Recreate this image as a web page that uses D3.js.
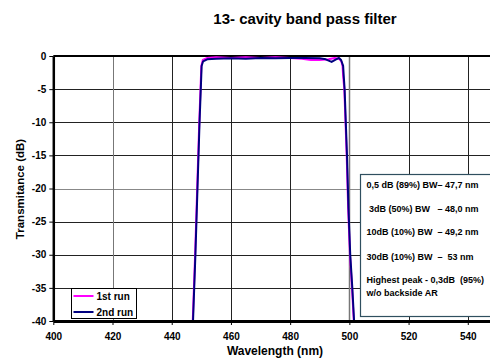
<!DOCTYPE html>
<html lang="en">
<head>
<meta charset="utf-8">
<title>13- cavity band pass filter</title>
<style>
  body { margin: 0; background: #fff; }
  svg text { font-family: Arial, "Liberation Sans", sans-serif; font-weight: bold; }
</style>
</head>
<body>
<svg id="chart" width="490" height="363"></svg>
<script src="https://cdn.jsdelivr.net/npm/d3@7/dist/d3.min.js"></script>
<script>
var xTicks = [400, 420, 440, 460, 480, 500, 520, 540];
var yTicks = [0, -5, -10, -15, -20, -25, -30, -35, -40];

// 1st run (magenta)
var run1Wl = [447.1, 447.9, 448.6, 449.3, 449.8, 450.0, 450.5, 452, 455, 460, 465, 470, 475, 480, 484, 487, 490, 493, 495, 496.5, 497.3, 497.7, 497.9, 498.3, 498.7, 499.1, 499.6, 500.2, 500.9, 501.5];
var run1Db = [-40, -30, -20, -10, -4, -1.5, -0.6, -0.3, -0.2, -0.3, -0.2, -0.3, -0.2, -0.3, -0.4, -0.6, -0.6, -0.5, -0.3, -0.4, -0.8, -1.5, -3, -5, -10, -15, -23, -30, -35, -40];

// 2nd run (navy)
var run2Wl = [447.2, 448.0, 448.7, 449.4, 449.9, 450.1, 450.6, 452, 455, 460, 465, 470, 475, 480, 485, 490, 492, 494, 495.5, 496.5, 497.2, 497.9, 498.1, 498.4, 498.8, 499.2, 499.7, 500.3, 501.0, 501.6];
var run2Db = [-40, -30, -20, -10, -4, -1.5, -0.8, -0.5, -0.4, -0.35, -0.4, -0.3, -0.35, -0.3, -0.3, -0.35, -0.5, -0.9, -0.5, -0.3, -0.6, -1.5, -3, -5, -10, -15, -23, -30, -35, -40];

var seriesNames = ["1st run", "2nd run"];
var seriesColors = ["#ff00ff", "#000080"];

var notes = ["0,5 dB (89%) BW\u2013 47,7 nm", " 3dB (50%) BW   \u2013 48,0 nm", "10dB (10%) BW  \u2013 49,2 nm", "30dB (10%) BW  \u2013  53 nm", "Highest peak - 0,3dB  (95%)", "w/o backside AR"];

var svg = d3.select("#chart");
var pLeft = 53.3, pRight = 527, pTop = 56, pBottom = 321;

var x = d3.scaleLinear().domain([400, 560]).range([pLeft, pRight]);
var y = d3.scaleLinear().domain([-40, 0]).range([pBottom, pTop]);

// title
svg.append("text")
    .attr("x", 305).attr("y", 24)
    .attr("text-anchor", "middle")
    .attr("font-size", "15px")
    .text("13- cavity band pass filter");

// gridlines
svg.append("g").selectAll("line")
    .data(yTicks.slice(1, -1))
    .enter().append("line")
    .attr("x1", pLeft).attr("x2", pRight)
    .attr("y1", function(d) { return Math.round(y(d)) + 0.5; })
    .attr("y2", function(d) { return Math.round(y(d)) + 0.5; })
    .attr("stroke", function(d) { return d == -20 ? "#888" : "#222"; })
    .attr("stroke-width", 1);

svg.append("g").selectAll("line")
    .data(xTicks.slice(1))
    .enter().append("line")
    .attr("y1", pTop).attr("y2", pBottom)
    .attr("x1", function(d) { return Math.round(x(d)) + 0.5; })
    .attr("x2", function(d) { return Math.round(x(d)) + 0.5; })
    .attr("stroke", function(d) { return (d == 420 || d == 500) ? "#777" : "#222"; })
    .attr("stroke-width", function(d) { return d == 500 ? 1.5 : 1; });

// top border
svg.append("line")
    .attr("x1", pLeft).attr("x2", pRight)
    .attr("y1", pTop).attr("y2", pTop)
    .attr("stroke", "#000").attr("stroke-width", 2);

// curves
svg.append("clipPath").attr("id", "clip")
    .append("rect")
    .attr("x", pLeft).attr("y", pTop - 2)
    .attr("width", pRight - pLeft).attr("height", pBottom - pTop + 2);

var line = d3.line()
    .x(function(d) { return x(d[0]); })
    .y(function(d) { return y(d[1]); });

var runs = [d3.zip(run1Wl, run1Db), d3.zip(run2Wl, run2Db)];

svg.append("g").attr("clip-path", "url(#clip)")
    .selectAll("path")
    .data(runs)
    .enter().append("path")
    .attr("d", line)
    .attr("fill", "none")
    .attr("stroke", function(d, i) { return seriesColors[i]; })
    .attr("stroke-width", 2)
    .attr("stroke-linejoin", "round");

// axes
var xAxis = svg.append("g")
    .attr("transform", "translate(0," + pBottom + ")")
    .call(d3.axisBottom(x).tickValues(xTicks).tickSize(4).tickSizeOuter(0).tickFormat(d3.format("d")));
xAxis.select(".domain").attr("stroke", "#000").attr("stroke-width", 3);
xAxis.selectAll("text").attr("font-size", "10px").attr("font-family", "Arial, 'Liberation Sans', sans-serif")
    .attr("font-weight", "bold").attr("fill", "#000").attr("dy", "1.15em");

var yAxis = svg.append("g")
    .attr("transform", "translate(" + pLeft + ",0)")
    .call(d3.axisLeft(y).tickValues(yTicks).tickSize(4).tickSizeOuter(0).tickFormat(d3.format("d")));
yAxis.select(".domain").attr("stroke", "#000").attr("stroke-width", 2.5);
yAxis.selectAll("text").attr("font-size", "10px").attr("font-family", "Arial, 'Liberation Sans', sans-serif")
    .attr("font-weight", "bold").attr("fill", "#000").attr("x", -7);
yAxis.selectAll(".tick text").text(function(d) { return String(d); });

// axis titles
svg.append("text")
    .attr("x", 275).attr("y", 355)
    .attr("text-anchor", "middle")
    .attr("font-size", "12px")
    .text("Wavelength (nm)");

svg.append("text")
    .attr("transform", "translate(24," + 189 + ") rotate(-90)")
    .attr("text-anchor", "middle")
    .attr("font-size", "11.5px")
    .text("Transmitance (dB)");

// legend
var legend = svg.append("g").attr("transform", "translate(71.5,288.5)");
legend.append("rect")
    .attr("width", 65).attr("height", 30)
    .attr("fill", "#fff").attr("stroke", "#000").attr("stroke-width", 1);
var items = legend.selectAll("g.item")
    .data(seriesNames)
    .enter().append("g")
    .attr("transform", function(d, i) { return "translate(0," + (7.5 + i * 16) + ")"; });
items.append("line")
    .attr("x1", 2).attr("x2", 22)
    .attr("stroke", function(d, i) { return seriesColors[i]; })
    .attr("stroke-width", 2);
items.append("text")
    .attr("x", 25).attr("dy", "0.35em")
    .attr("font-size", "10px")
    .text(function(d) { return d; });

// note box
var box = svg.append("g").attr("transform", "translate(360.5,174.5)");
box.append("rect")
    .attr("width", 140).attr("height", 142)
    .attr("fill", "#fff").attr("stroke", "#2f4f5f").attr("stroke-width", 1.2);
box.selectAll("text")
    .data(notes)
    .enter().append("text")
    .attr("x", 6)
    .attr("y", function(d, i) { return [10, 34, 57.5, 82.5, 105, 118][i]; })
    .attr("dy", "0.35em")
    .attr("font-size", "9px")
    .style("white-space", "pre")
    .text(function(d) { return d; });
</script>
</body>
</html>
